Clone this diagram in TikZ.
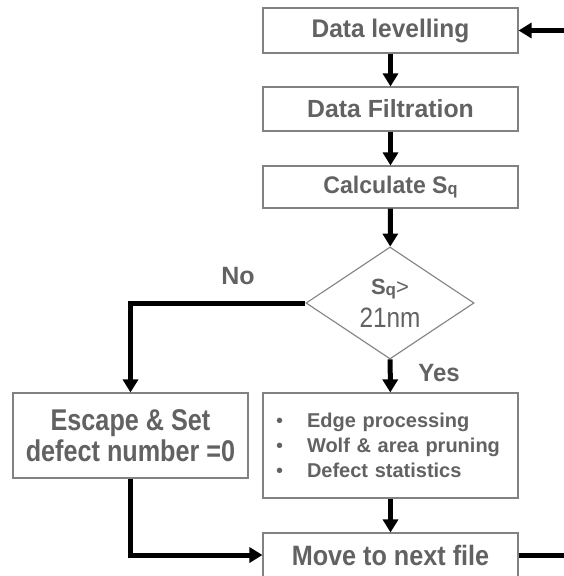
\documentclass[tikz,border=0pt]{standalone}
\usepackage{fontspec}
\setmainfont{Liberation Sans}
\newfontfamily\fsA[FakeStretch=0.96]{Liberation Sans}
\newfontfamily\fsB[FakeStretch=0.87]{Liberation Sans}
\newfontfamily\fsC[FakeStretch=0.84]{Liberation Sans}
\newfontfamily\fsD[FakeStretch=0.9]{Liberation Sans}
\usetikzlibrary{shapes.geometric,arrows.meta}
\definecolor{txt}{RGB}{98,98,98}
\definecolor{bord}{RGB}{130,130,130}
\newcommand\mySq{S{\fontsize{17}{17}\selectfont\raisebox{-1pt}{q}}}
\begin{document}
\begin{tikzpicture}[x=1pt,y=-1pt,
  box/.style={draw=bord, line width=1.1pt, fill=white, text=txt,
    font=\fontsize{24}{30}\selectfont\bfseries, minimum width=255pt,
    minimum height=44pt, inner sep=0pt, align=center},
  arr/.style={line width=5pt, -{Triangle[length=13pt,width=15pt]}},
  lbl/.style={text=txt, font=\fontsize{25}{28}\selectfont\bfseries, inner sep=0pt}]
\useasboundingbox (0,0) rectangle (564,576);
\fill[white] (0,0) rectangle (564,576);
\node[box, minimum height=45pt, font=\fsA\fontsize{25.5}{30}\selectfont\bfseries]
  (lev) at (390.5,30.5) {Data levelling};
\node[box, font=\fontsize{24.8}{30}\selectfont\bfseries] (fil) at (390.5,109) {Data Filtration};
\node[box, minimum height=42pt, font=\fsA\fontsize{24}{30}\selectfont\bfseries]
  (calc) at (390.5,187) {Calculate \mySq};
\node[diamond, draw=bord, line width=1.1pt, fill=white, text=txt,
  minimum width=168pt, minimum height=112pt, inner sep=0pt, align=center,
  font=\fontsize{22}{33}\selectfont] (dec) at (390,303)
  {{\bfseries\mySq}>\\{\fsB\fontsize{28}{33}\selectfont 21nm}};
\node[box, minimum height=105pt, text width=229pt, inner xsep=13pt, align=left,
  font=\fontsize{20}{25}\selectfont\bfseries] (proc) at (390.5,445.5)
  {\makebox[31pt][l]{\normalfont\textbullet}Edge processing\\
   \makebox[31pt][l]{\normalfont\textbullet}Wolf \& area pruning\\
   \makebox[31pt][l]{\normalfont\textbullet}Defect statistics};
\node[box, minimum width=235pt, minimum height=85pt,
  font=\fsC\fontsize{30}{31}\selectfont\bfseries] (esc) at (130.5,435.5)
  {Escape \& Set\\defect number =0};
\node[box, font=\fsD\fontsize{28}{30}\selectfont\bfseries] (move) at (390.5,555) {Move to next file};
\node[lbl] (no) at (238,276) {No};
\node[lbl, font=\fsA\fontsize{25}{28}\selectfont\bfseries] (yes) at (439,373) {Yes};
\coordinate (loop) at (600,555);
\draw[arr] (lev) -- (fil);
\draw[arr] (fil) -- (calc);
\draw[arr] (calc) -- (dec);
\draw[arr] (dec) -- (proc);
\draw[arr] (proc) -- (move);
\draw[arr] (dec.west) -| (esc.north);
\draw[arr] (esc.south) |- (move.west);
\draw[arr] (move.east) -- (loop) |- (lev.east);
\end{tikzpicture}
\end{document}
